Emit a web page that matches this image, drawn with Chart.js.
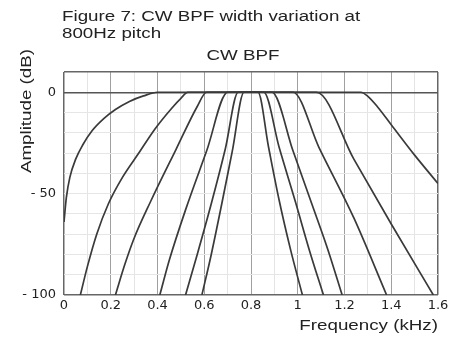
<!DOCTYPE html>
<html>
<head>
<meta charset="utf-8">
<script src="https://cdn.jsdelivr.net/npm/chart.js@4/dist/chart.umd.min.js"></script>
<style>
  html, body { margin: 0; padding: 0; background: #fff; }
  #wrap { width: 453px; height: 337px; }
</style>
</head>
<body>
<div id="wrap"><canvas id="bpf-chart" width="453" height="337"></canvas></div>
<script>
// filter responses, frequency in kHz, amplitude in dB
const f1Freq = [0, 0.01, 0.025, 0.05, 0.08, 0.12, 0.17, 0.22, 0.28, 0.34, 0.40, 1.27, 1.3, 1.34, 1.4, 1.5, 1.6];
const f1Db   = [-64, -52, -42, -33, -26, -19, -13, -8.5, -4.5, -1.8, 0, 0, -2, -7, -16, -31, -45];

const f2Freq = [0.07, 0.10, 0.14, 0.19, 0.25, 0.32, 0.39, 0.46, 0.50, 0.53, 1.08, 1.24, 1.40, 1.58];
const f2Db   = [-100, -86, -70, -55, -42, -30, -18, -8, -3, 0, 0, -33, -65, -100];

const f3Freq = [0.22, 0.26, 0.30, 0.37, 0.48, 0.57, 0.61, 0.98, 1.09, 1.24, 1.38];
const f3Db   = [-100, -85, -72, -54, -28, -7, 0, 0, -27, -62, -100];

const f4Freq = [0.41, 0.45, 0.52, 0.61, 0.70, 0.89, 0.98, 1.06, 1.13, 1.19];
const f4Db   = [-100, -83, -58, -29, 0, 0, -29, -55, -78, -100];

const f5Freq = [0.52, 0.57, 0.63, 0.69, 0.745, 0.855, 0.92, 0.99, 1.05, 1.11];
const f5Db   = [-100, -80, -55, -28, 0, 0, -27, -54, -78, -100];

const f6Freq = [0.59, 0.63, 0.675, 0.72, 0.77, 0.83, 0.875, 0.92, 0.97, 1.02];
const f6Db   = [-100, -80, -55, -29, 0, 0, -27, -53, -78, -100];

const yTickLabels = { '0': '0', '-50': '- 50', '-100': '- 100' };

const titleLines = ['Figure 7: CW BPF width variation at', '800Hz pitch'];
const chartTitle = 'CW BPF';
const xTitle = 'Frequency (kHz)';
const yTitle = 'Amplitude (dB)';

const FONT = '"Liberation Sans", Arial, sans-serif';
const TICK_FONT = '"DejaVu Sans", sans-serif';
const INK = '#222';
const STRETCH = 1.34; // the scanned text is wider than plain Arial

function toPoints(xs, ys) {
  return xs.map((x, i) => ({ x: x, y: ys[i] }));
}

const curves = [
  [f1Freq, f1Db], [f2Freq, f2Db], [f3Freq, f3Db],
  [f4Freq, f4Db], [f5Freq, f5Db], [f6Freq, f6Db]
];

const datasets = curves.map(c => ({
  data: toPoints(c[0], c[1]),
  borderColor: '#3a3a3a',
  borderWidth: 1.7,
  pointRadius: 0,
  fill: false,
  cubicInterpolationMode: 'monotone'
}));

function wideText(ctx, text, x, y, align, angle) {
  ctx.save();
  ctx.translate(x, y);
  if (angle) ctx.rotate(angle);
  ctx.scale(STRETCH, 1);
  ctx.textAlign = align;
  ctx.fillText(text, 0, 0);
  ctx.restore();
}

// texts that sit outside the normal chart.js title slots
const textPlugin = {
  id: 'texts',
  afterDraw(chart) {
    const ctx = chart.ctx;
    const area = chart.chartArea;
    ctx.save();
    ctx.fillStyle = INK;
    ctx.font = '14px ' + FONT;
    ctx.textBaseline = 'middle';
    wideText(ctx, titleLines[0], 62, 17, 'left');
    wideText(ctx, titleLines[1], 62, 34, 'left');
    wideText(ctx, chartTitle, 243, 56, 'center');
    wideText(ctx, xTitle, area.right, 326, 'right');
    wideText(ctx, yTitle, 27, 111, 'center', -Math.PI / 2);
    ctx.restore();
  }
};

const ctx = document.getElementById('bpf-chart').getContext('2d');
new Chart(ctx, {
  type: 'line',
  data: { datasets: datasets },
  options: {
    responsive: false,
    animation: false,
    layout: { padding: { left: 0, top: 72, right: 15, bottom: 0 } },
    plugins: {
      legend: { display: false },
      tooltip: { enabled: false }
    },
    scales: {
      x: {
        type: 'linear',
        min: 0,
        max: 1.6,
        afterFit: function (scale) { scale.height = 42; },
        ticks: {
          stepSize: 0.1,
          autoSkip: false,
          maxRotation: 0,
          padding: 3,
          color: INK,
          font: { family: TICK_FONT, size: 13 },
          callback: function (value) {
            const v = Math.round(value * 10);
            if (v % 2 !== 0) return '';
            return String(v / 10);
          }
        },
        grid: {
          drawTicks: false,
          color: function (c) {
            const v = Math.round(c.tick.value * 10);
            if (v === 0 || v === 16) return '#666';
            return v % 2 === 0 ? '#a0a0a0' : '#e4e4e4';
          },
          lineWidth: function (c) {
            const v = Math.round(c.tick.value * 10);
            return (v === 0 || v === 16) ? 1.5 : 1;
          }
        },
        border: { display: false }
      },
      y: {
        type: 'linear',
        min: -100,
        max: 10,
        afterFit: function (scale) { scale.width = 64; },
        ticks: {
          stepSize: 10,
          autoSkip: false,
          padding: 8,
          color: INK,
          font: { family: TICK_FONT, size: 13 },
          callback: function (value) {
            const k = String(Math.round(value));
            return yTickLabels[k] !== undefined ? yTickLabels[k] : '';
          }
        },
        grid: {
          drawTicks: false,
          color: function (c) {
            const v = Math.round(c.tick.value);
            if (v === 0) return '#555';
            if (v === 10 || v === -100) return '#666';
            return '#e6e6e6';
          },
          lineWidth: function (c) {
            const v = Math.round(c.tick.value);
            return (v === 0 || v === 10 || v === -100) ? 1.5 : 1;
          }
        },
        border: { display: false }
      }
    }
  },
  plugins: [textPlugin]
});
</script>
</body>
</html>
